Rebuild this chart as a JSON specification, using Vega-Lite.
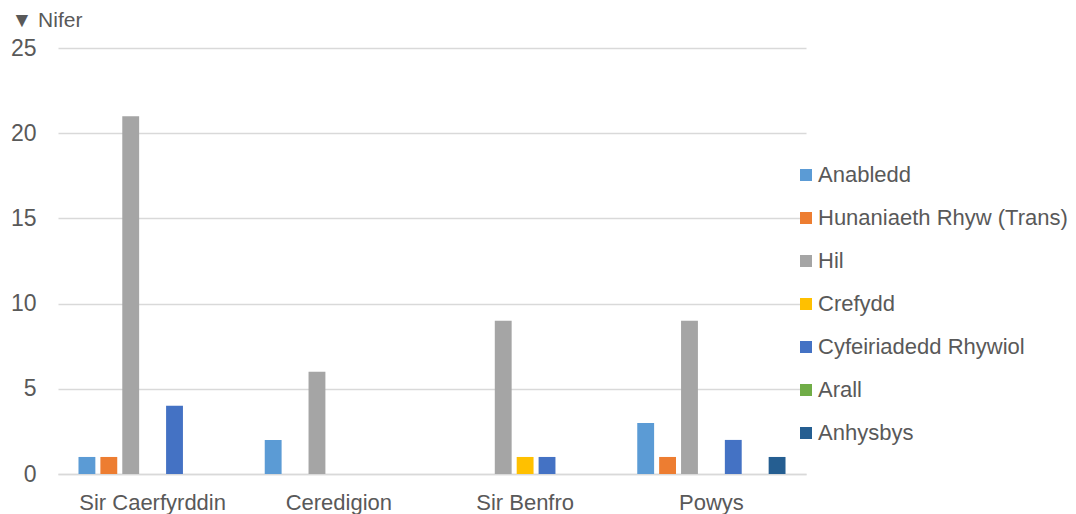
{
  "$schema": "https://vega.github.io/schema/vega-lite/v6.json",
  "width": 748,
  "height": 426,
  "autosize": "none",
  "padding": {"left": 58, "top": 48, "right": 270, "bottom": 40},
  "background": "white",
  "config": {
    "font": "Liberation Sans",
    "view": {"stroke": null}
  },
  "data": {
    "values": [
      {"ardal": "Sir Caerfyrddin", "categori": "Anabledd", "nifer": 1},
      {"ardal": "Sir Caerfyrddin", "categori": "Hunaniaeth Rhyw  (Trans)", "nifer": 1},
      {"ardal": "Sir Caerfyrddin", "categori": "Hil", "nifer": 21},
      {"ardal": "Sir Caerfyrddin", "categori": "Cyfeiriadedd Rhywiol", "nifer": 4},
      {"ardal": "Ceredigion", "categori": "Anabledd", "nifer": 2},
      {"ardal": "Ceredigion", "categori": "Hil", "nifer": 6},
      {"ardal": "Sir Benfro", "categori": "Hil", "nifer": 9},
      {"ardal": "Sir Benfro", "categori": "Crefydd", "nifer": 1},
      {"ardal": "Sir Benfro", "categori": "Cyfeiriadedd Rhywiol", "nifer": 1},
      {"ardal": "Powys", "categori": "Anabledd", "nifer": 3},
      {"ardal": "Powys", "categori": "Hunaniaeth Rhyw  (Trans)", "nifer": 1},
      {"ardal": "Powys", "categori": "Hil", "nifer": 9},
      {"ardal": "Powys", "categori": "Cyfeiriadedd Rhywiol", "nifer": 2},
      {"ardal": "Powys", "categori": "Anhysbys", "nifer": 1}
    ]
  },
  "mark": {"type": "bar"},
  "encoding": {
    "x": {
      "field": "ardal",
      "type": "nominal",
      "sort": ["Sir Caerfyrddin", "Ceredigion", "Sir Benfro", "Powys"],
      "scale": {"paddingInner": 0.204, "paddingOuter": 0.11},
      "axis": {
        "title": null,
        "labelAngle": 0,
        "labelFontSize": 22,
        "labelColor": "#595959",
        "labelPadding": 18,
        "ticks": false,
        "domainColor": "#d9d9d9",
        "domainWidth": 1.5
      }
    },
    "xOffset": {
      "field": "categori",
      "type": "nominal",
      "scale": {
        "domain": ["Anabledd", "Hunaniaeth Rhyw  (Trans)", "Hil", "Crefydd", "Cyfeiriadedd Rhywiol", "Arall", "Anhysbys"],
        "paddingInner": 0.23,
        "paddingOuter": 0
      }
    },
    "y": {
      "field": "nifer",
      "type": "quantitative",
      "scale": {"domain": [0, 25]},
      "axis": {
        "values": [0, 5, 10, 15, 20, 25],
        "title": "▼ Nifer",
        "titleAngle": 0,
        "titleAlign": "left",
        "titleBaseline": "middle",
        "titleX": -47,
        "titleY": -28,
        "titleFontSize": 21,
        "titleFontWeight": "normal",
        "titleColor": "#595959",
        "labelFontSize": 23,
        "labelColor": "#595959",
        "labelPadding": 22,
        "ticks": false,
        "domain": false,
        "gridColor": "#d9d9d9",
        "gridWidth": 1.5
      }
    },
    "color": {
      "field": "categori",
      "type": "nominal",
      "scale": {
        "domain": ["Anabledd", "Hunaniaeth Rhyw  (Trans)", "Hil", "Crefydd", "Cyfeiriadedd Rhywiol", "Arall", "Anhysbys"],
        "range": ["#5B9BD5", "#ED7D31", "#A5A5A5", "#FFC000", "#4472C4", "#70AD47", "#255E91"]
      },
      "legend": {
        "title": null,
        "orient": "none",
        "legendX": 737,
        "legendY": 116,
        "symbolType": "square",
        "symbolSize": 144,
        "symbolStrokeWidth": 0,
        "symbolOpacity": 1,
        "labelFontSize": 22,
        "labelColor": "#595959",
        "labelOffset": 1,
        "rowPadding": 21,
        "labelLimit": 400
      }
    }
  }
}
